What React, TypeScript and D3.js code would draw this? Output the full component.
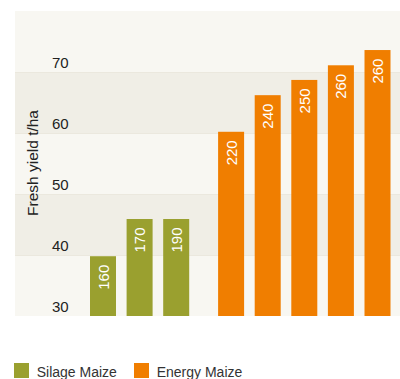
import React from "react";
import * as d3 from "d3";

const silageLabels = ["160", "170", "190"];
const silageValues = [39.8, 45.9, 45.9];
const energyLabels = ["220", "240", "250", "260", "260"];
const energyValues = [60.2, 66.2, 68.7, 71.1, 73.6];
const yTicks = [30, 40, 50, 60, 70];
const bandStarts = [30, 40, 50, 60, 70];
const seriesNames = ["Silage Maize", "Energy Maize"];
const seriesColors = ["#9aa02f", "#f07e00"];

const W = 400;
const H = 379;
const plot = { left: 15, right: 400, top: 11, bottom: 316 };

export default function App() {
  const y = d3.scaleLinear().domain([30, 80]).range([plot.bottom, plot.top]);
  // slot positions: silage at 0..2, energy at 3.5..7.5 (half-slot group gap)
  const x = d3.scaleLinear().domain([0, 7.5]).range([103, 377.5]);
  const barW = 26;
  const font = "'Liberation Sans', Arial, Helvetica, sans-serif";

  const bars = [
    ...silageValues.map((v, i) => ({ v, label: silageLabels[i], slot: i, color: seriesColors[0] })),
    ...energyValues.map((v, i) => ({ v, label: energyLabels[i], slot: 3.5 + i, color: seriesColors[1] })),
  ];

  return (
    <svg
      width={W}
      height={H}
      style={{ position: "fixed", left: 0, top: 0, display: "block", background: "#ffffff" }}
      fontFamily={font}
    >
      {bandStarts.map((b, i) => (
        <rect
          key={"band" + b}
          x={plot.left}
          y={y(b + 10)}
          width={plot.right - plot.left}
          height={y(b) - y(b + 10)}
          fill={i % 2 === 1 ? "#f0eee6" : "#f8f7f2"}
        />
      ))}
      {[40, 50, 60, 70].map((t) => (
        <line
          key={"grid" + t}
          x1={plot.left}
          x2={plot.right}
          y1={y(t) + 0.5}
          y2={y(t) + 0.5}
          stroke="#ebe8de"
          strokeWidth={1}
        />
      ))}
      {yTicks.map((t) => (
        <text key={"tick" + t} x={52} y={y(t) - 4.5} fontSize={15} fill="#222">
          {t}
        </text>
      ))}
      <text
        transform={`translate(38, ${163}) rotate(-90)`}
        textAnchor="middle"
        fontSize={15.5}
        fill="#222"
      >
        Fresh yield t/ha
      </text>
      {bars.map((b, i) => {
        const cx = x(b.slot);
        return (
          <g key={"bar" + i}>
            <rect x={cx - barW / 2} y={y(b.v)} width={barW} height={y(30) - y(b.v)} fill={b.color} />
            <text
              transform={`translate(${cx + 5.5}, ${y(b.v) + 8.5}) rotate(-90)`}
              textAnchor="end"
              fontSize={15}
              fill="#ffffff"
            >
              {b.label}
            </text>
          </g>
        );
      })}
      {seriesNames.map((name, i) => {
        const lx = i === 0 ? 14 : 134;
        return (
          <g key={"leg" + i}>
            <rect x={lx} y={363} width={15} height={15} fill={seriesColors[i]} />
            <text x={lx + 22.7} y={376.5} fontSize={14} fill="#333">
              {name}
            </text>
          </g>
        );
      })}
    </svg>
  );
}
